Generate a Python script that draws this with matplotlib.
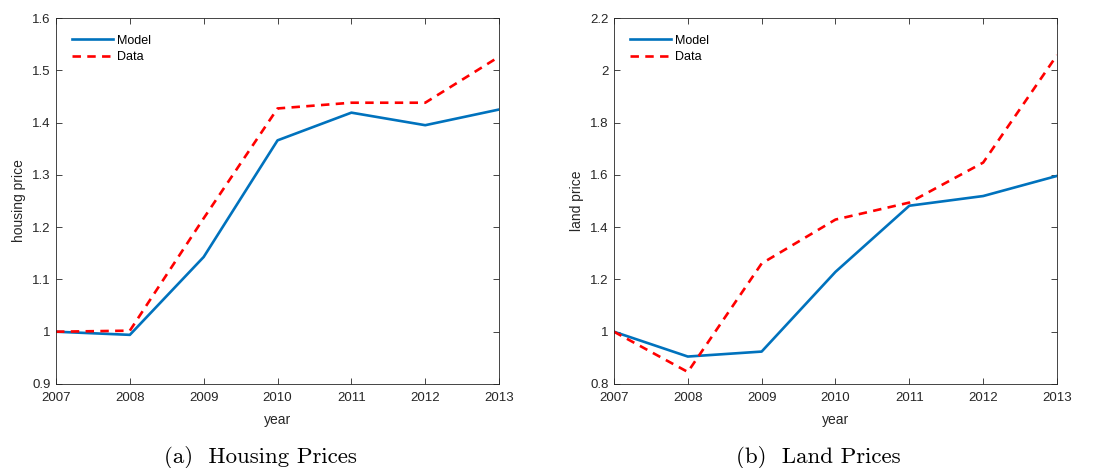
import matplotlib
matplotlib.use('Agg')
from matplotlib import pyplot as plt

years = [2007, 2008, 2009, 2010, 2011, 2012, 2013]
housing_model = [1.0, 0.994, 1.143, 1.366, 1.419, 1.395, 1.425]
housing_data = [1.0, 1.002, 1.217, 1.427, 1.438, 1.438, 1.526]
land_model = [1.0, 0.905, 0.924, 1.229, 1.482, 1.519, 1.596]
land_data = [1.0, 0.846, 1.261, 1.429, 1.494, 1.647, 2.058]

plt.rcParams['font.family'] = ['Liberation Sans', 'DejaVu Sans']
plt.rcParams['axes.formatter.use_mathtext'] = True

fig = plt.figure(figsize=(10.94, 4.68), dpi=100)
ax1 = fig.add_axes([0.0512, 0.1795, 0.405, 0.782])
ax2 = fig.add_axes([0.5612, 0.1795, 0.405, 0.782])

panels = [
    (ax1, housing_model, housing_data, 'housing price', (0.9, 1.6),
     [0.9, 1.0, 1.1, 1.2, 1.3, 1.4, 1.5, 1.6], ['0.9', '1', '1.1', '1.2', '1.3', '1.4', '1.5', '1.6'],
     '(a)  Housing Prices'),
    (ax2, land_model, land_data, 'land price', (0.8, 2.2),
     [0.8, 1.0, 1.2, 1.4, 1.6, 1.8, 2.0, 2.2], ['0.8', '1', '1.2', '1.4', '1.6', '1.8', '2', '2.2'],
     '(b)  Land Prices'),
]

for ax, model, data, ylab, ylim, yt, ytl, cap in panels:
    ax.plot(years, model, color='#0072BD', linewidth=1.9, label='Model')
    ax.plot(years, data, color='#FF0000', linewidth=1.9, linestyle=(0, (3.2, 2.4)), label='Data')
    ax.set_xlim(2007, 2013)
    ax.set_ylim(*ylim)
    ax.set_xticks(years)
    ax.set_xticklabels([str(y) for y in years])
    ax.set_yticks(yt)
    ax.set_yticklabels(ytl)
    ax.tick_params(direction='in', top=True, right=True, labelsize=9.5,
                   colors='#262626', length=4, width=0.6)
    ax.tick_params(axis='x', pad=6)
    ax.tick_params(axis='y', pad=4)
    for s in ax.spines.values():
        s.set_color('#262626')
        s.set_linewidth(0.6)
    ax.set_xlabel('year', fontsize=10, color='#262626', labelpad=6)
    ax.set_ylabel(ylab, fontsize=10, color='#262626', labelpad=4)
    ax.legend(loc='upper left', frameon=False, fontsize=9, handlelength=3.3,
              handletextpad=0.3, borderaxespad=0.0, borderpad=0.0, labelspacing=0.35,
              bbox_to_anchor=(0.036, 0.954))
    # caption is centred under the whole subfigure (incl. y label), so a bit left of axes centre
    ax.text(0.462, -0.2, cap, transform=ax.transAxes, ha='center', va='center',
            fontsize=16.5, family='cmr10')

fig.savefig('out.png', dpi=100)
